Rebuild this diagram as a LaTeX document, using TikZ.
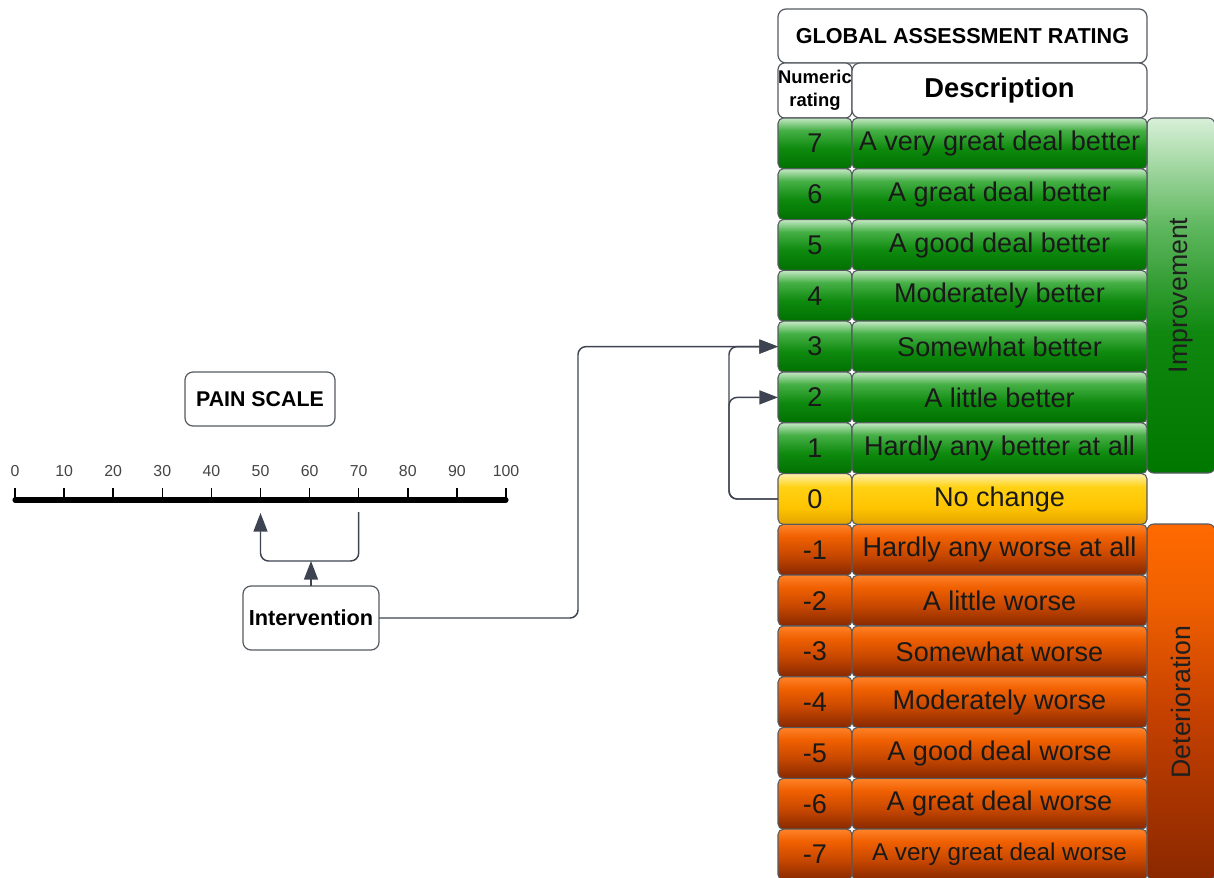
\documentclass[tikz,border=0pt]{standalone}
\usepackage{fontspec}
\setmainfont{Liberation Sans}
\usetikzlibrary{arrows.meta,calc}
\definecolor{edge}{HTML}{555A60}
\definecolor{conncol}{HTML}{3D4350}
\definecolor{labgrey}{HTML}{444444}
% vertical shadings: the path covers 25bp (bottom) .. 75bp (top)
\pgfdeclareverticalshading{greenrow}{100bp}{
  color(0bp)=(rgb,255:red,0;green,112;blue,0);
  color(25bp)=(rgb,255:red,0;green,112;blue,0);
  color(45bp)=(rgb,255:red,14;green,138;blue,14);
  color(63bp)=(rgb,255:red,70;green,176;blue,70);
  color(75bp)=(rgb,255:red,196;green,232;blue,196);
  color(100bp)=(rgb,255:red,196;green,232;blue,196)}
\pgfdeclareverticalshading{yellowrow}{100bp}{
  color(0bp)=(rgb,255:red,226;green,164;blue,0);
  color(25bp)=(rgb,255:red,226;green,164;blue,0);
  color(42bp)=(rgb,255:red,255;green,196;blue,0);
  color(62bp)=(rgb,255:red,255;green,210;blue,20);
  color(75bp)=(rgb,255:red,255;green,240;blue,170);
  color(100bp)=(rgb,255:red,255;green,240;blue,170)}
\pgfdeclareverticalshading{orangerow}{100bp}{
  color(0bp)=(rgb,255:red,136;green,40;blue,0);
  color(25bp)=(rgb,255:red,136;green,40;blue,0);
  color(45bp)=(rgb,255:red,200;green,72;blue,0);
  color(63bp)=(rgb,255:red,240;green,96;blue,0);
  color(75bp)=(rgb,255:red,255;green,130;blue,40);
  color(100bp)=(rgb,255:red,255;green,130;blue,40)}
\pgfdeclareverticalshading{imprbox}{100bp}{
  color(0bp)=(rgb,255:red,0;green,120;blue,0);
  color(25bp)=(rgb,255:red,0;green,120;blue,0);
  color(45bp)=(rgb,255:red,16;green,136;blue,16);
  color(60bp)=(rgb,255:red,96;green,184;blue,96);
  color(75bp)=(rgb,255:red,216;green,240;blue,216);
  color(100bp)=(rgb,255:red,216;green,240;blue,216)}
\pgfdeclareverticalshading{deterbox}{100bp}{
  color(0bp)=(rgb,255:red,138;green,40;blue,0);
  color(25bp)=(rgb,255:red,138;green,40;blue,0);
  color(48bp)=(rgb,255:red,196;green,64;blue,0);
  color(64bp)=(rgb,255:red,240;green,96;blue,0);
  color(75bp)=(rgb,255:red,255;green,106;blue,0);
  color(100bp)=(rgb,255:red,255;green,106;blue,0)}
\tikzset{
  x=0.75pt, y=-0.75pt,
  cell/.style={draw=edge, line width=0.8pt, rounded corners=4pt, inner sep=0pt, outer sep=0pt,
    minimum height=38.1pt, text=black!90, font=\fontsize{20.3}{24}\selectfont},
  numcell/.style={cell, minimum width=55.5pt},
  desccell/.style={cell, minimum width=221.25pt},
  green/.style={shading=greenrow},
  orange/.style={shading=orangerow},
  yellow/.style={shading=yellowrow},
  whitebox/.style={draw=edge, line width=0.9pt, rounded corners=6pt, fill=white, inner sep=0pt, outer sep=0pt, align=center},
  conn/.style={draw=conncol, line width=1.1pt, rounded corners=6pt},
  tip/.style={-{Triangle[length=14pt,width=10.5pt]}},
}
\begin{document}
\begin{tikzpicture}
\useasboundingbox (0,0) rectangle (1214,878);

% ---------- table header ----------
\node[whitebox, minimum width=276.75pt, minimum height=40.5pt, font=\bfseries\fontsize{16.2}{19}\selectfont]
  (title) at (962.5,36) {GLOBAL ASSESSMENT RATING};
\node[whitebox, rounded corners=5pt, minimum width=55.5pt, minimum height=41.25pt, font=\bfseries\fontsize{13.8}{17}\selectfont]
  (numhead) at (815,90.5) {Numeric\\rating};
\node[whitebox, minimum width=221.25pt, minimum height=41.25pt, font=\bfseries\fontsize{20.5}{24}\selectfont]
  (deschead) at (999.5,90.5) {Description};

% ---------- side boxes ----------
\node[draw=edge, line width=0.8pt, rounded corners=5pt, shading=imprbox,
  minimum width=51pt, minimum height=266.25pt, inner sep=0pt] (impr) at (1181,295.5) {};
\node[rotate=90, font=\fontsize{20}{24}\selectfont, text=black!88] (imprtxt) at (impr.center) {Improvement};
\node[draw=edge, line width=0.8pt, rounded corners=5pt, shading=deterbox,
  minimum width=51pt, minimum height=267pt, inner sep=0pt] (deter) at (1181,702) {};
\node[rotate=90, font=\fontsize{20}{24}\selectfont, text=black!88] (detertxt) at (deter.center) {Deterioration};

% ---------- rows ----------
\foreach \i/\num/\txt/\sty in {
  0/7/A very great deal better/green,
  1/6/A great deal better/green,
  2/5/A good deal better/green,
  3/4/Moderately better/green,
  4/3/Somewhat better/green,
  5/2/A little better/green,
  6/1/Hardly any better at all/green,
  7/0/No change/yellow,
  8/-1/Hardly any worse at all/orange,
  9/-2/A little worse/orange,
  10/-3/Somewhat worse/orange,
  11/-4/Moderately worse/orange,
  12/-5/A good deal worse/orange,
  13/-6/A great deal worse/orange}{
  \node[numcell, \sty] (num\i) at (815,{143.4+50.8*\i}) {\num};
  \node[desccell, \sty] (desc\i) at (999.5,{143.4+50.8*\i}) {\txt};
}
\node[numcell, orange] (num14) at (815,{143.4+50.8*14}) {-7};
\node[desccell, orange, font=\fontsize{18.2}{22}\selectfont] (desc14) at (999.5,{143.4+50.8*14}) {A very great deal worse};

% ---------- pain scale ----------
\node[whitebox, minimum width=112.5pt, minimum height=40.5pt, font=\bfseries\fontsize{16}{19}\selectfont]
  (pain) at (260,399) {PAIN SCALE};
\coordinate (s0) at (15,500);
\coordinate (s100) at (506,500);
\draw[black, line width=3.8pt, line cap=round] (s0) -- (s100);
\foreach \k in {0,...,10}{
  \coordinate (t\k) at ({15+49.1*\k},500);
  \draw[black, line width=1.1pt] (t\k) -- ++(0,-12);
  \node[font=\fontsize{11.9}{14}\selectfont, text=labgrey] (lab\k) at ({15+49.1*\k},471) {\the\numexpr\k*10\relax};
}

\node[whitebox, minimum width=102pt, minimum height=48pt, font=\bfseries\fontsize{16.3}{19}\selectfont]
  (interv) at (311,618) {Intervention};

% ---------- connectors ----------
\coordinate (bm) at (311,561);
\coordinate (b70) at ({15+49.1*7},512);
\coordinate (b50) at ({15+49.1*5},513);
\draw[conn, tip] (interv.north) -- (bm);
\draw[conn, tip] (b70) |- (bm) -| (b50);

\coordinate (c1) at (578,480);
\coordinate (c2) at (729,480);
\draw[conn, tip] (interv.east) -| (c1 |- num4.west) -- (num4.west);
\draw[conn, tip] (num7.west) -| (c2 |- num4.west) -- (num4.west);
\draw[conn, tip] (num7.west) -| (c2 |- num5.west) -- (num5.west);
\end{tikzpicture}
\end{document}
